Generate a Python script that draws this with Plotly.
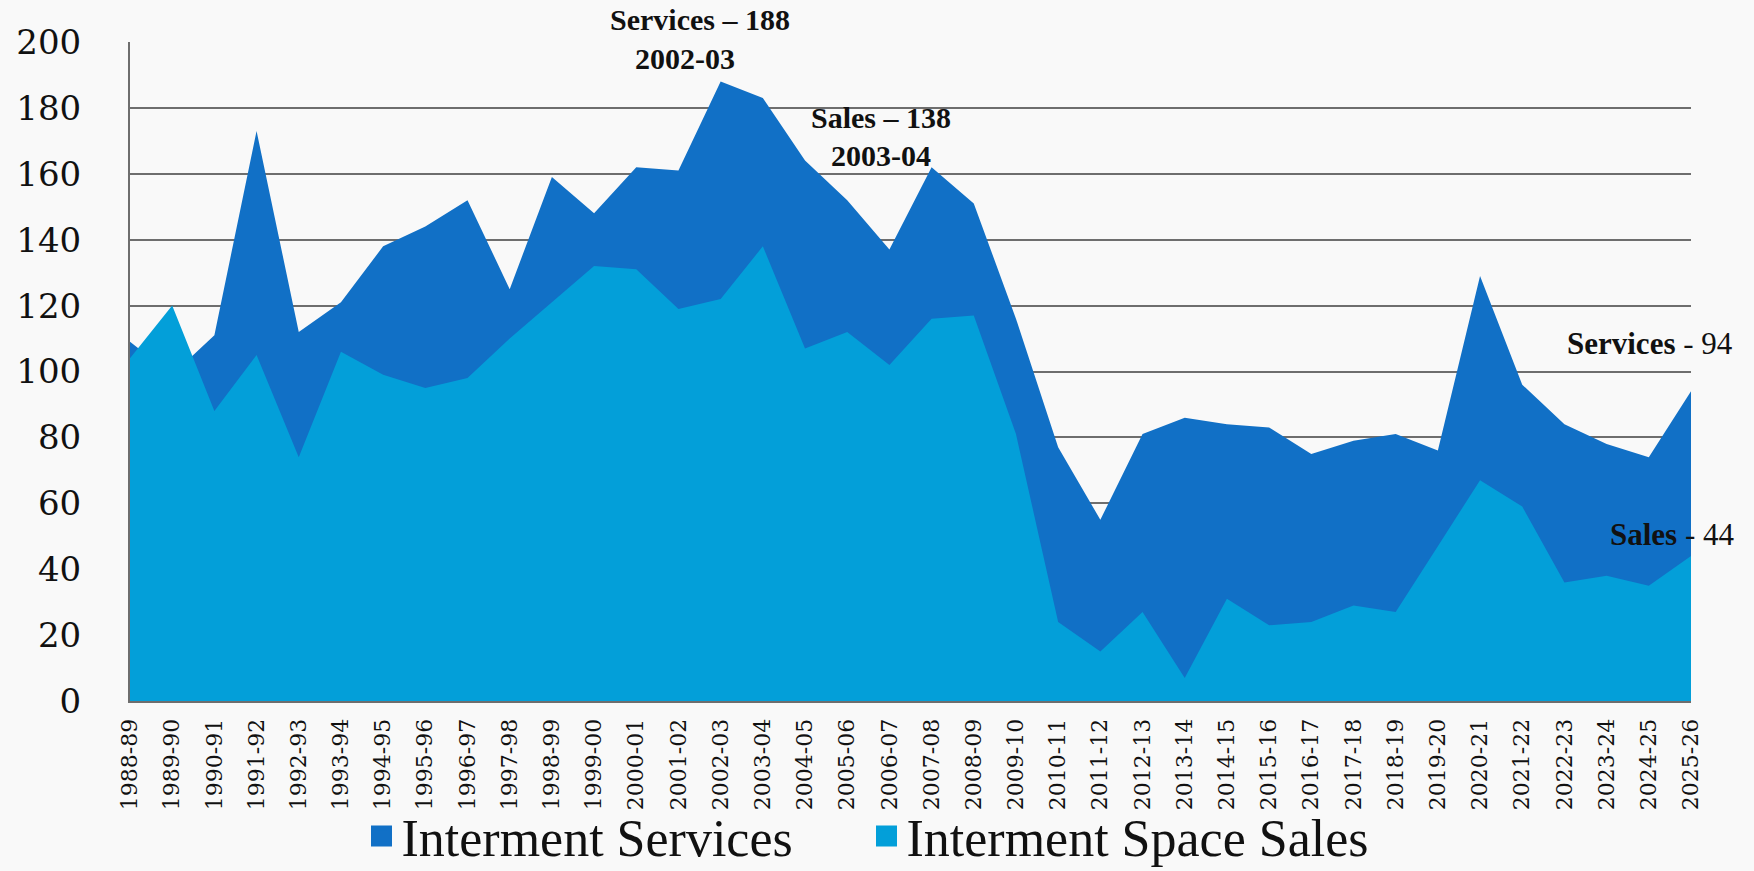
import plotly.graph_objects as go

years = ["1988-89", "1989-90", "1990-91", "1991-92", "1992-93", "1993-94", "1994-95",
         "1995-96", "1996-97", "1997-98", "1998-99", "1999-00", "2000-01", "2001-02",
         "2002-03", "2003-04", "2004-05", "2005-06", "2006-07", "2007-08", "2008-09",
         "2009-10", "2010-11", "2011-12", "2012-13", "2013-14", "2014-15", "2015-16",
         "2016-17", "2017-18", "2018-19", "2019-20", "2020-21", "2021-22", "2022-23",
         "2023-24", "2024-25", "2025-26"]

services = [109, 99, 111, 173, 112, 121, 138, 144, 152, 125, 159, 148, 162, 161,
            188, 183, 164, 152, 137, 162, 151, 116, 77, 55, 81, 86, 84, 83,
            75, 79, 81, 76, 129, 96, 84, 78, 74, 94]

sales = [104, 120, 88, 105, 74, 106, 99, 95, 98, 110, 121, 132, 131, 119,
         122, 138, 107, 112, 102, 116, 117, 81, 24, 15, 27, 7, 31, 23,
         24, 29, 27, 47, 67, 59, 36, 38, 35, 44]

y_ticks = [0, 20, 40, 60, 80, 100, 120, 140, 160, 180, 200]

SERVICES_COLOR = "#1170C6"
SALES_COLOR = "#039FD9"
FONT = "Liberation Serif"
TICK_FONT = "DejaVu Serif"

fig = go.Figure()
fig.add_trace(go.Scatter(x=years, y=services, mode="none", fill="tozeroy",
                         fillcolor=SERVICES_COLOR, name="Interment Services",
                         showlegend=False))
fig.add_trace(go.Scatter(x=years, y=sales, mode="none", fill="tozeroy",
                         fillcolor=SALES_COLOR, name="Interment Space Sales",
                         showlegend=False))
# legend entries (square markers)
fig.add_trace(go.Scatter(x=[None], y=[None], mode="markers", name="Interment Services",
                         marker=dict(symbol="square", size=16, color=SERVICES_COLOR,
                                     line=dict(color=SERVICES_COLOR, width=5))))
fig.add_trace(go.Scatter(x=[None], y=[None], mode="markers", name="Interment Space Sales",
                         marker=dict(symbol="square", size=16, color=SALES_COLOR,
                                     line=dict(color=SALES_COLOR, width=5))))

ann_font = dict(family=FONT, size=30, color="#111111")
fig.add_annotation(x=13.5, y=200, yshift=23, text="<b>Services – 188</b>",
                   showarrow=False, font=ann_font, yanchor="middle")
fig.add_annotation(x=13.15, y=194.9, text="<b>2002-03</b>",
                   showarrow=False, font=ann_font, yanchor="middle")
fig.add_annotation(x=17.8, y=177.2, text="<b>Sales – 138</b>",
                   showarrow=False, font=ann_font, yanchor="middle")
fig.add_annotation(x=17.8, y=165.7, text="<b>2003-04</b>",
                   showarrow=False, font=ann_font, yanchor="middle")
fig.add_annotation(x=len(years) - 1, y=108.6, xanchor="right", xshift=44,
                   text="<b>Services</b> - 94", showarrow=False,
                   font=dict(family=FONT, size=31, color="#111111"), yanchor="middle")
fig.add_annotation(x=len(years) - 1, y=50.4, xanchor="right", xshift=46,
                   text="<b>Sales</b> - 44", showarrow=False,
                   font=dict(family=FONT, size=31, color="#111111"), yanchor="middle")

fig.update_layout(
    width=1754, height=871,
    margin=dict(l=130, r=63, t=42, b=170, autoexpand=False),
    paper_bgcolor="#f9f9f9",
    plot_bgcolor="#f9f9f9",
    font=dict(family=FONT, color="#111111"),
    showlegend=True,
    legend=dict(orientation="h", xref="container", yref="container",
                x=0.494, xanchor="center", y=0.04, yanchor="middle",
                font=dict(family=FONT, size=52, color="#111111"),
                bgcolor="rgba(0,0,0,0)", itemwidth=30, entrywidth=460),
    xaxis=dict(type="category", range=[0, len(years) - 1], tickangle=-90,
               tickfont=dict(family=TICK_FONT, size=22, color="#111111"),
               showgrid=False, showline=True, linecolor="#6e6e6e", linewidth=2,
               ticks="", ticklabelstandoff=7, fixedrange=True, automargin=False),
    yaxis=dict(range=[0, 200], tickvals=y_ticks, ticktext=[str(v) for v in y_ticks],
               tickfont=dict(family=TICK_FONT, size=34, color="#111111"),
               showgrid=True, gridcolor="#6e6e6e", gridwidth=2,
               showline=True, linecolor="#6e6e6e", linewidth=2,
               zeroline=False, ticks="", ticklabelstandoff=40, automargin=False),
)

fig.write_html("out.html", config={"displayModeBar": False},
               post_script="document.body.style.margin='0';")
